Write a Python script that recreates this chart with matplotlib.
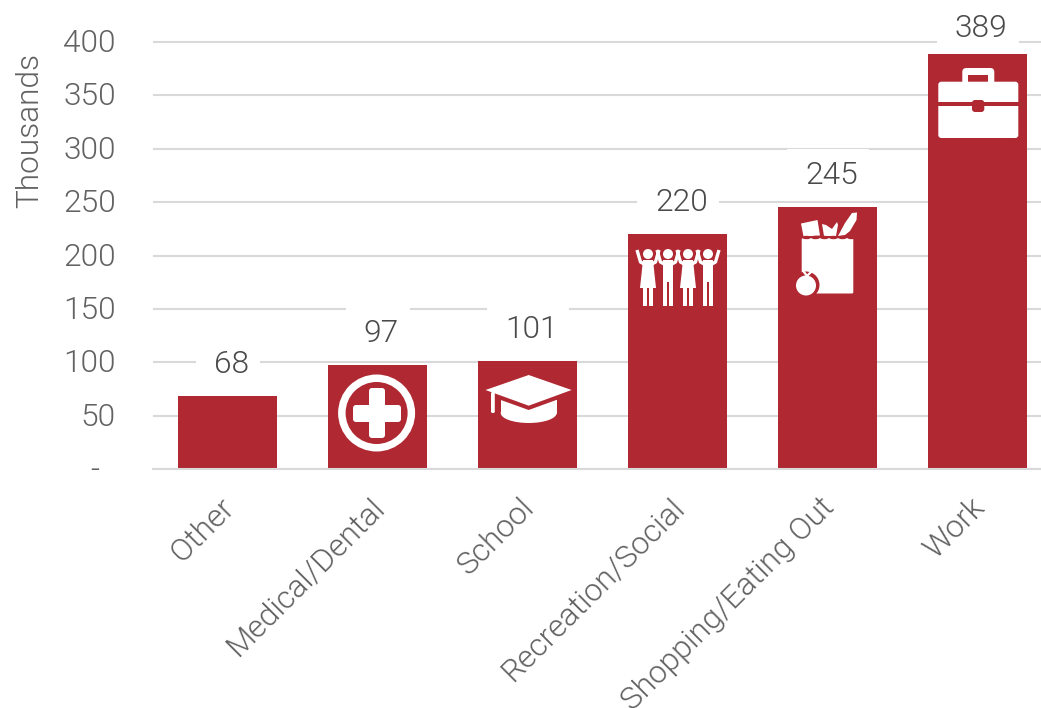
import matplotlib
matplotlib.use("Agg")
import matplotlib.pyplot as plt
from matplotlib.patches import Rectangle, FancyBboxPatch, Circle, Polygon, Ellipse
from matplotlib.lines import Line2D
from matplotlib.transforms import ScaledTranslation

categories = ["Other", "Medical/Dental", "School", "Recreation/Social", "Shopping/Eating Out", "Work"]
values = [68, 97, 101, 220, 245, 389]
yticks = [0, 50, 100, 150, 200, 250, 300, 350, 400]
yticklabels = ["-  ", "50", "100", "150", "200", "250", "300", "350", "400"]

RED = "#B02832"
GRID = "#D9D9D9"
TEXT = "#626262"
W, H = 1041, 708
FS = 22.8

plt.rcParams["font.family"] = "Roboto"
plt.rcParams["font.weight"] = 300

fig = plt.figure(figsize=(W / 100, H / 100), dpi=100, facecolor="white")
ax = fig.add_axes([152.7 / W, 239 / H, 900 / W, 469 / H])
PX = 427 / 400  # pixels per data unit
ax.set_xlim(-0.5, 5.5)
ax.set_ylim(0, 469 / PX)
for s in ax.spines.values():
    s.set_visible(False)
ax.set_yticks(yticks)
ax.set_yticklabels(yticklabels, fontsize=FS, color=TEXT, fontweight=300)
ax.set_xticks(range(len(categories)))
ax.set_xticklabels(categories, fontsize=FS, color=TEXT, rotation=45, ha="right",
                   rotation_mode="anchor", fontweight=300)
ax.tick_params(axis="y", length=0, pad=26.5)
ax.tick_params(axis="x", length=0, pad=17)
shift_x = ScaledTranslation(-8 / 100, 0, fig.dpi_scale_trans)
for lab in ax.get_xticklabels():
    lab.set_transform(lab.get_transform() + shift_x)
shift_y = ScaledTranslation(0, 1.5 / 100, fig.dpi_scale_trans)
for lab in ax.get_yticklabels():
    lab.set_transform(lab.get_transform() + shift_y)
ax.set_axisbelow(True)
ax.yaxis.grid(True, color=GRID, lw=1.5, zorder=0)
ax.xaxis.grid(False)
ax.set_ylabel("Thousands", fontsize=FS, color=TEXT, fontweight=300, labelpad=0)
ax.yaxis.set_label_coords(-108 / 900, 339 / 469)

for i, v in enumerate(values):
    # label centre is 34 px above bar top, but stays inside the picture
    centre = min(v + 34 / PX, (469 - 27) / PX)
    bw = 0.547 if v >= 100 else 0.427
    ax.add_patch(Rectangle((i - bw / 2, centre - 24 / PX), bw, 48 / PX, fc="white", ec="none", zorder=1.5))
    ax.annotate(str(v), (i, centre), xytext=(2.6, 0.8), textcoords="offset points", ha="center", va="center_baseline",
                fontsize=FS, color="#4A4A4A", fontweight=300, zorder=4)
ax.bar(range(len(values)), values, width=0.66, color=RED, zorder=2)
ax.axhline(0, color=GRID, lw=1.5, zorder=3, clip_on=False)

# icon overlay, in picture pixels
ov = fig.add_axes([0, 0, 1, 1])
ov.set_xlim(0, W)
ov.set_ylim(H, 0)
ov.axis("off")
ov.patch.set_alpha(0)


def rrect(x0, y0, x1, y1, r, color="white", z=5):
    ov.add_patch(FancyBboxPatch((x0 + r, y0 + r), x1 - x0 - 2 * r, y1 - y0 - 2 * r,
                                boxstyle=f"round,pad={r},rounding_size={r}", fc=color, ec="none", zorder=z))


def poly(pts, color="white", z=5):
    ov.add_patch(Polygon(pts, closed=True, fc=color, ec="none", zorder=z))


# Briefcase
rrect(962.3, 68, 994.3, 90, 4)
ov.add_patch(Rectangle((967.7, 75), 20.6, 8, fc=RED, ec="none", zorder=6))
rrect(938.3, 81.7, 1018.3, 138, 3, z=7)
ov.add_patch(Rectangle((938, 101.7), 81, 4, fc=RED, ec="none", zorder=8))
rrect(972, 100, 984.3, 112, 3, color=RED, z=8)

# Medical
ov.add_patch(Circle((376.6, 413), 38.5, fc="white", ec="none", zorder=5))
ov.add_patch(Circle((376.6, 413), 31, fc=RED, ec="none", zorder=6))
rrect(369, 388, 385, 438, 3, z=7)
rrect(353, 405, 401, 422, 3, z=7)

# Graduation cap
ov.add_patch(Ellipse((528.7, 413), 56, 20, fc="white", ec="none", zorder=5))
ov.add_patch(Rectangle((500.8, 399.5), 55.9, 14, fc="white", ec="none", zorder=5))
poly([(498, 399), (528.7, 410), (559, 399), (559, 394), (498, 394)], color=RED, z=5.5)
poly([(485.5, 390), (528.7, 375), (571.6, 390), (528.7, 405.7)], z=6)
rrect(491, 392, 494.8, 413, 1.5, z=6)

# People
for k, cx in enumerate([648, 668, 688, 708]):
    ov.add_patch(Circle((cx, 254), 5, fc="white", ec="none", zorder=5))
    for side in (-1, 1):
        ov.add_line(Line2D([cx + side * 11, cx + side * 7.5, cx + side * 4],
                           [250, 262, 264], color="white", lw=2.4, zorder=5, solid_capstyle="butt"))
    if k % 2 == 0:
        poly([(cx - 5, 260), (cx + 5, 260), (cx + 8, 288), (cx - 8, 288)])
        legs_top = 287
    else:
        ov.add_patch(Rectangle((cx - 5, 260), 10, 22, fc="white", ec="none", zorder=5))
        legs_top = 281
    ov.add_patch(Rectangle((cx - 5, legs_top), 3.8, 305.5 - legs_top, fc="white", ec="none", zorder=5))
    ov.add_patch(Rectangle((cx + 1.2, legs_top), 3.8, 305.5 - legs_top, fc="white", ec="none", zorder=5))

# Grocery bag
rrect(801.7, 238, 853.3, 293.5, 1.5)
for sx in range(802, 853, 9):
    ov.add_patch(Ellipse((sx + 4.5, 237.5), 9, 3.4, fc=RED, ec="none", zorder=5.5))
poly([(801, 223.5), (817.5, 220), (820, 235.5), (803.5, 236.5)])
poly([(822, 224), (826, 225), (832, 229), (837, 222), (838, 225), (836, 236), (824, 236)])
poly([(838, 236), (845, 223), (852, 213), (857, 212.5), (856.5, 220), (850, 231), (845, 235)])
ov.add_patch(Circle((806, 285), 13.5, fc=RED, ec="none", zorder=6))
ov.add_patch(Ellipse((806, 285.5), 20, 20, fc="white", ec="none", zorder=7))
ov.add_line(Line2D([804, 807, 811], [272, 276, 272], color="white", lw=1.6, zorder=7))

fig.savefig("out.png", dpi=100, facecolor="white")
